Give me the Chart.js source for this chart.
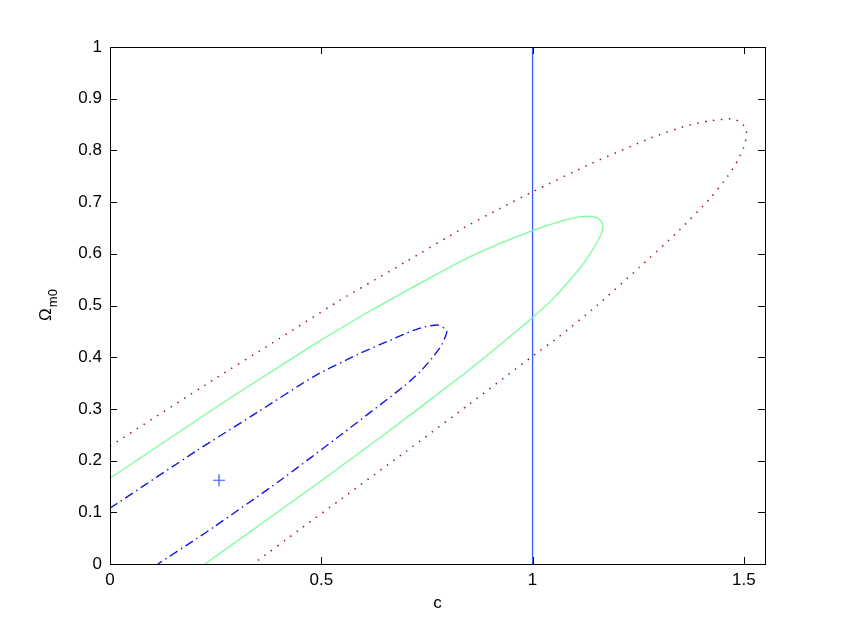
<!DOCTYPE html>
<html>
<head>
<meta charset="utf-8">
<script src="https://cdn.jsdelivr.net/npm/chart.js@4/dist/chart.umd.min.js"></script>
<style>
  body { margin: 0; background: #fff; }
  canvas { display: block; }
</style>
</head>
<body>
<canvas id="contours" width="845" height="636"></canvas>
<script>
// outer contour (dotted red)
const outerX = [0, 0.25, 0.385, 0.542, 0.699, 0.836, 0.912, 1.0, 1.14, 1.283, 1.362, 1.418, 1.475, 1.494, 1.506, 1.503, 1.487, 1.461, 1.421, 1.34, 1.253, 1.151, 1.06, 1.0, 0.85, 0.7, 0.55, 0.45, 0.339];
const outerY = [0.228, 0.359, 0.428, 0.509, 0.584, 0.650, 0.683, 0.720, 0.775, 0.825, 0.847, 0.857, 0.861, 0.853, 0.840, 0.814, 0.783, 0.749, 0.708, 0.640, 0.574, 0.499, 0.438, 0.402, 0.309, 0.2175, 0.1275, 0.0675, 0];

// middle contour (solid green)
const midX = [0, 0.26, 0.351, 0.474, 0.600, 0.718, 0.829, 0.923, 1.0, 1.058, 1.1, 1.129, 1.152, 1.164, 1.166, 1.160, 1.144, 1.121, 1.081, 1.042, 1.0, 0.923, 0.829, 0.65, 0.5, 0.35, 0.225];
const midY = [0.166, 0.308, 0.356, 0.420, 0.482, 0.536, 0.585, 0.620, 0.645, 0.661, 0.670, 0.673, 0.670, 0.661, 0.650, 0.634, 0.610, 0.582, 0.542, 0.508, 0.477, 0.424, 0.362, 0.251, 0.161, 0.073, 0];

// inner contour (dash-dot blue)
const innerX = [0, 0.205, 0.35, 0.485, 0.588, 0.655, 0.718, 0.746, 0.777, 0.797, 0.785, 0.762, 0.734, 0.699, 0.55, 0.4, 0.245, 0.205, 0.113];
const innerY = [0.108, 0.219, 0.294, 0.364, 0.406, 0.430, 0.452, 0.459, 0.462, 0.451, 0.424, 0.398, 0.372, 0.346, 0.252, 0.160, 0.071, 0.049, 0];

const bestFit = [0.258, 0.162];
const refLineX = 1;

const xTicks = [0, 0.5, 1, 1.5];
const xTickLabels = ["0", "0.5", "1", "1.5"];
const yTicks = [0, 0.1, 0.2, 0.3, 0.4, 0.5, 0.6, 0.7, 0.8, 0.9, 1];
const yTickLabels = ["0", "0.1", "0.2", "0.3", "0.4", "0.5", "0.6", "0.7", "0.8", "0.9", "1"];

const FONT = "'Liberation Sans', Arial, Helvetica, sans-serif";

function toPoints(xs, ys) {
  return xs.map((x, i) => ({ x: x, y: ys[i] }));
}

// box, inward ticks and axis titles, MATLAB style
const axesDecor = {
  id: "axesDecor",
  afterDraw(chart) {
    const ctx = chart.ctx;
    const a = chart.chartArea;
    const xs = chart.scales.x, ys = chart.scales.y;
    const tl = 7;
    ctx.save();
    ctx.strokeStyle = "#000";
    ctx.lineWidth = 1;
    ctx.strokeRect(a.left + 0.5, a.top + 0.5, a.right - a.left, a.bottom - a.top);
    ctx.beginPath();
    xTicks.forEach(v => {
      const px = Math.round(xs.getPixelForValue(v)) + 0.5;
      ctx.moveTo(px, a.bottom); ctx.lineTo(px, a.bottom - tl);
      ctx.moveTo(px, a.top); ctx.lineTo(px, a.top + tl);
    });
    yTicks.forEach(v => {
      const py = Math.round(ys.getPixelForValue(v)) + 0.5;
      ctx.moveTo(a.left, py); ctx.lineTo(a.left + tl, py);
      ctx.moveTo(a.right, py); ctx.lineTo(a.right - tl, py);
    });
    ctx.stroke();

    ctx.fillStyle = "#000";
    ctx.font = "17px " + FONT;
    ctx.textAlign = "center";
    ctx.textBaseline = "middle";
    ctx.fillText("c", (a.left + a.right) / 2, 603);

    // Omega_{m0}, rotated
    ctx.translate(46, (a.top + a.bottom) / 2);
    ctx.rotate(-Math.PI / 2);
    ctx.textAlign = "left";
    ctx.textBaseline = "alphabetic";
    ctx.font = "17px " + FONT;
    const wO = ctx.measureText("Ω").width;
    ctx.font = "13px " + FONT;
    const wS = ctx.measureText("m0").width;
    const x0 = -(wO + wS) / 2;
    ctx.font = "17px " + FONT;
    ctx.fillText("Ω", x0, 5);
    ctx.font = "13px " + FONT;
    ctx.fillText("m0", x0 + wO + 1, 11);
    ctx.restore();
  }
};

new Chart(document.getElementById("contours"), {
  type: "scatter",
  data: {
    datasets: [
      {
        data: toPoints(outerX, outerY),
        showLine: true,
        borderColor: "#a01818",
        borderWidth: 1.5,
        borderDash: [1.5, 6.5],
        pointRadius: 0,
        tension: 0.2
      },
      {
        data: toPoints(midX, midY),
        showLine: true,
        borderColor: "#7dfc9e",
        borderWidth: 1.3,
        pointRadius: 0,
        tension: 0.2
      },
      {
        data: toPoints(innerX, innerY),
        showLine: true,
        borderColor: "#1414e6",
        borderWidth: 1.4,
        borderDash: [9, 4, 1.5, 4],
        pointRadius: 0,
        tension: 0.2
      },
      {
        data: [{ x: refLineX, y: 0 }, { x: refLineX, y: 1 }],
        showLine: true,
        borderColor: "#3a5cff",
        borderWidth: 1.3,
        pointRadius: 0
      },
      {
        data: [{ x: bestFit[0], y: bestFit[1] }],
        pointStyle: "cross",
        pointRadius: 6,
        borderColor: "#3355ff",
        borderWidth: 1.2,
        backgroundColor: "#3355ff"
      }
    ]
  },
  options: {
    responsive: false,
    animation: false,
    layout: { padding: { left: 0, right: 80, top: 47, bottom: 0 } },
    plugins: {
      legend: { display: false },
      tooltip: { enabled: false }
    },
    scales: {
      x: {
        type: "linear",
        min: 0,
        max: 1.55,
        afterBuildTicks: s => { s.ticks = xTicks.map(v => ({ value: v })); },
        afterFit: s => { s.height = 72; },
        grid: { display: true, drawOnChartArea: false, drawTicks: false },
        border: { display: true, color: "#000", width: 1 },
        ticks: {
          padding: 6,
          color: "#000",
          font: { family: FONT, size: 17 },
          maxRotation: 0,
          callback: (v) => xTickLabels[xTicks.indexOf(v)]
        }
      },
      y: {
        type: "linear",
        min: 0,
        max: 1,
        afterBuildTicks: s => { s.ticks = yTicks.map(v => ({ value: v })); },
        afterFit: s => { s.width = 110; },
        grid: { display: true, drawOnChartArea: false, drawTicks: false },
        border: { display: true, color: "#000", width: 1 },
        ticks: {
          padding: 8,
          color: "#000",
          font: { family: FONT, size: 17 },
          callback: (v) => yTickLabels[yTicks.indexOf(v)]
        }
      }
    }
  },
  plugins: [axesDecor]
});
</script>
</body>
</html>
